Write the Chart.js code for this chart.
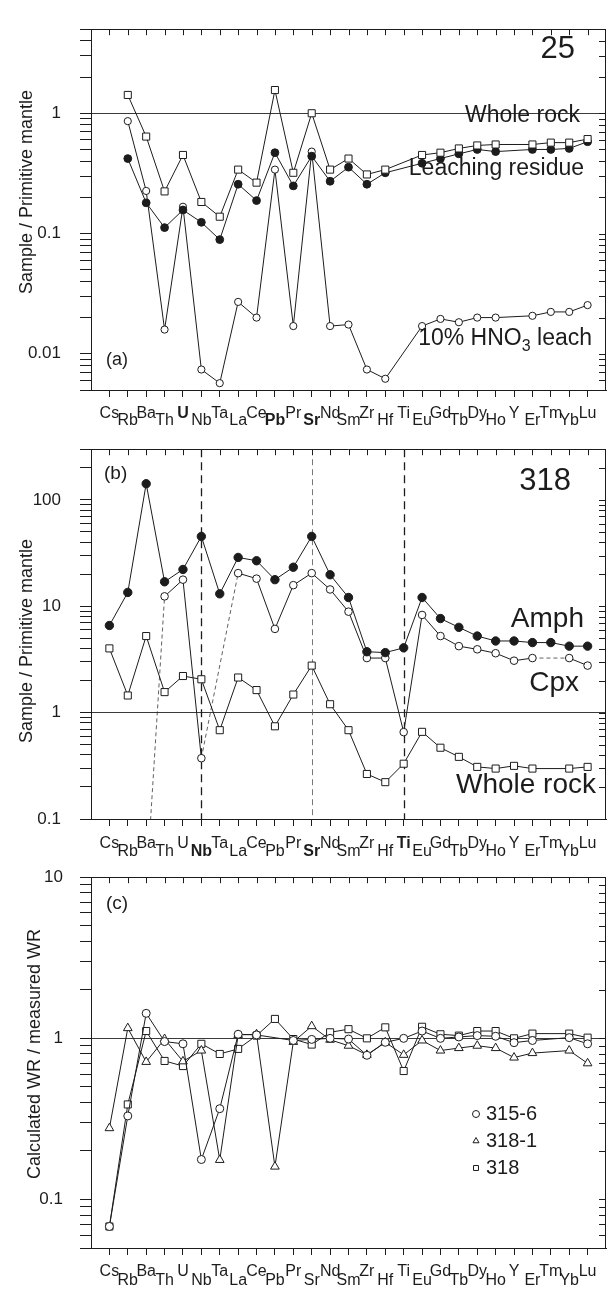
<!DOCTYPE html>
<html><head><meta charset="utf-8">
<script src="https://cdn.jsdelivr.net/npm/chart.js@4.4.1/dist/chart.umd.min.js"></script>
<style>
html,body{margin:0;padding:0;background:#fff;}
#wrap{position:relative;width:612px;height:1291px;overflow:hidden;background:#fff;}
canvas{position:absolute;left:0;}
</style></head><body>
<div id="wrap">
<canvas id="ca" style="top:0px" width="612" height="432"></canvas>
<canvas id="cb" style="top:420px" width="612" height="445"></canvas>
<canvas id="cc" style="top:850px" width="612" height="441"></canvas>
</div>
<script>
// ---------- categories and tick labels ----------
const ELEMENTS = ['Cs','Rb','Ba','Th','U','Nb','Ta','La','Ce','Pb','Pr','Sr','Nd','Sm','Zr','Hf','Ti','Eu','Gd','Tb','Dy','Ho','Y','Er','Tm','Yb','Lu'];
const BOLD_A = ['U','Pb','Sr'];
const BOLD_B = ['Nb','Sr','Ti'];
const BOLD_C = [];
const Y_LABELS_A = [1, 0.1, 0.01];
const Y_LABELS_B = [100, 10, 1, 0.1];
const Y_LABELS_C = [10, 1, 0.1];

// ---------- panel (a): sample 25 ----------
const WHOLE_ROCK_A    = [null,1.42,0.64,0.224,0.45,0.183,0.138,0.34,0.265,1.56,0.32,1.0,0.34,0.42,0.31,0.34,null,0.45,0.47,0.51,0.54,0.55,null,0.55,0.57,0.57,0.61];
const LEACH_RESIDUE_A = [null,0.42,0.18,0.112,0.157,0.124,0.089,0.257,0.188,0.47,0.249,0.44,0.272,0.356,0.257,0.32,null,0.384,0.42,0.46,0.50,0.48,null,0.50,0.50,0.51,0.58];
const HNO3_LEACH_A    = [null,0.86,0.226,0.0159,0.167,0.0074,0.0057,0.027,0.020,0.34,0.017,0.48,0.017,0.0175,0.0074,0.0062,null,0.017,0.0195,0.0183,0.020,0.020,null,0.0207,0.0223,0.0223,0.0254];

// ---------- panel (b): sample 318 ----------
const AMPH_B       = [6.6,13.5,142,17,22.2,45.4,13.1,28.8,26.8,17.8,23.3,45.4,19.8,12.1,3.74,3.67,4.07,12.1,7.67,6.34,5.25,4.72,4.72,4.56,4.56,4.22,4.22];
const CPX_B        = [null,null,0.0215,12.4,17.8,0.373,null,20.5,18.2,6.13,15.8,20.5,14.4,8.9,3.26,3.26,0.656,8.29,5.25,4.22,3.94,3.62,3.08,3.26,null,3.26,2.77];
const WHOLE_ROCK_B = [4.02,1.45,5.25,1.56,2.21,2.06,0.684,2.14,1.63,0.744,1.48,2.77,1.2,0.684,0.265,0.222,0.331,0.66,0.468,0.384,0.309,0.298,0.316,0.298,null,0.298,0.309];
const CPX_DASHED_FROM = ['Ba','Nb','Er'];
const GUIDES_B = ['Nb','Sr','Ti'];

// ---------- panel (c): calculated / measured WR ----------
const S315_6 = [0.068,0.33,1.43,0.955,0.925,0.177,0.366,1.06,1.05,null,0.97,0.985,1.0,0.99,0.785,0.945,1.0,1.11,1.0,1.02,1.04,1.03,0.94,0.97,null,1.01,0.925];
const S318_1 = [0.277,1.157,0.714,0.99,0.72,0.84,0.176,1.05,1.06,0.16,0.95,1.19,0.98,0.90,0.79,0.945,0.79,0.97,0.84,0.87,0.90,0.87,0.76,0.81,null,0.84,0.70];
const S318   = [0.068,0.389,1.11,0.724,0.673,0.925,0.80,0.86,1.04,1.32,0.99,0.915,1.09,1.14,1.0,1.17,0.627,1.18,1.06,1.04,1.11,1.11,1.0,1.07,null,1.07,1.01];

// ---------- style ----------
const FONT = "'Liberation Sans', Arial, Helvetica, sans-serif";
const INK = '#1c1c1c';
Chart.defaults.font.family = FONT;
Chart.defaults.color = INK;

function pts(arr){ return arr.map((v,i)=> v==null ? null : {x:i, y:v}).filter(p=>p); }
function logTicks(min,max){
  const out=[];
  for(let e=Math.floor(Math.log10(min))-1; e<=Math.ceil(Math.log10(max)); e++){
    for(let m=1;m<=9;m++){
      const v = Number((m*Math.pow(10,e)).toPrecision(6));
      if(v>=min*0.9999 && v<=max*1.0001) out.push({value:v});
    }
  }
  return out;
}
function drawRich(ctx, t, dy){
  const segs = t.segs || [{s:t.text}];
  const fontFor = sg => `${t.bold?'bold ':''}${sg.sub ? Math.round(t.size*0.7) : t.size}px ${FONT}`;
  let w = 0;
  segs.forEach(sg => { ctx.font = fontFor(sg); w += ctx.measureText(sg.s).width; });
  let cx = t.align === 'right' ? t.x - w : t.x;
  ctx.textAlign = 'left'; ctx.textBaseline = 'alphabetic'; ctx.fillStyle = INK;
  segs.forEach(sg => {
    ctx.font = fontFor(sg);
    ctx.fillText(sg.s, cx, t.y - dy + (sg.sub ? t.size*0.25 : 0));
    cx += ctx.measureText(sg.s).width;
  });
}
function marker(ctx, style, r, x, y, filled){
  ctx.save();
  ctx.fillStyle = filled ? INK : '#fff'; ctx.strokeStyle = INK; ctx.lineWidth = 1;
  ctx.beginPath();
  if(style==='rect'){ const h=r*Math.SQRT1_2; ctx.rect(x-h,y-h,2*h,2*h); }
  else if(style==='triangle'){ for(let k=0;k<3;k++){ const a=k*2*Math.PI/3; const px=x+Math.sin(a)*r, py=y-Math.cos(a)*r; k?ctx.lineTo(px,py):ctx.moveTo(px,py);} ctx.closePath(); }
  else { ctx.arc(x,y,r,0,2*Math.PI); }
  ctx.fill(); ctx.stroke(); ctx.restore();
}

const decorPlugin = {
  id: 'decor',
  beforeDatasetsDraw(chart, args, o){
    const {ctx, chartArea:a, scales:{x}} = chart;
    (o.vlines||[]).forEach(v => {
      const px = Math.round(x.getPixelForValue(ELEMENTS.indexOf(v.at))) + 0.5;
      ctx.save(); ctx.strokeStyle = v.color; ctx.lineWidth = v.width; ctx.setLineDash(v.dash);
      ctx.beginPath(); ctx.moveTo(px, a.top); ctx.lineTo(px, a.bottom); ctx.stroke(); ctx.restore();
    });
  },
  afterDraw(chart, args, o){
    const {ctx, chartArea:a, scales:{x, y}} = chart;
    ctx.save();
    ctx.strokeStyle = INK; ctx.lineWidth = 1;
    const R = Math.round(a.right) - 0.5, T = Math.round(a.top) + 0.5;
    ctx.beginPath();
    ctx.moveTo(a.left, T); ctx.lineTo(R, T); ctx.lineTo(R, a.bottom);
    x.ticks.forEach(t => { const px = Math.round(x.getPixelForValue(t.value))+0.5; ctx.moveTo(px, a.top); ctx.lineTo(px, a.top+6); });
    y.ticks.forEach(t => { const py = Math.round(y.getPixelForValue(t.value))+0.5; ctx.moveTo(a.right, py); ctx.lineTo(a.right-7, py); });
    ctx.stroke();
    // staggered element labels
    ctx.fillStyle = INK; ctx.textAlign = 'center'; ctx.textBaseline = 'alphabetic';
    ELEMENTS.forEach((el, i) => {
      const px = x.getPixelForValue(i);
      const py = a.bottom + (i % 2 === 0 ? o.upper : o.lower);
      ctx.font = (o.bold.includes(el) ? 'bold ' : '') + o.labelSize + 'px ' + FONT;
      ctx.fillText(el, px, py);
    });
    // y-axis title (rotated)
    if(o.yTitle){
      const t = o.yTitle;
      ctx.save();
      ctx.translate(t.x, t.y - o.dy); ctx.rotate(-Math.PI/2);
      ctx.font = t.size + 'px ' + FONT; ctx.textAlign = 'center'; ctx.textBaseline = 'middle';
      ctx.fillText(t.text, 0, 0);
      ctx.restore();
    }
    (o.texts||[]).forEach(t => drawRich(ctx, t, o.dy));
    if(o.legend){
      const L = o.legend;
      chart.data.datasets.forEach((ds, i) => {
        const by = L.y + i*L.gap - o.dy;
        marker(ctx, ds.pointStyle, L.r, L.x, by - 6, false);
        drawRich(ctx, {text: ds.label, x: L.x + 10, y: by + o.dy, size: L.size}, o.dy);
      });
    }
    ctx.restore();
  }
};

function panel(id, p){
  const canvas = document.getElementById(id);
  const H = canvas.height;
  return new Chart(canvas, {
    type: 'line',
    data: {datasets: p.datasets},
    options: {
      responsive: false, animation: false, events: [],
      layout: {padding: {left: 0, right: 5, top: p.top, bottom: 0}},
      plugins: {legend: {display: false}, tooltip: {enabled: false}, decor: p.decor},
      scales: {
        x: {type: 'linear', min: -1, max: 27,
          afterBuildTicks: s => { s.ticks = ELEMENTS.map((_, i) => ({value: i})); },
          afterFit: s => { s.height = H - p.bottom; },
          ticks: {display: false},
          grid: {drawOnChartArea: false, drawTicks: true, tickLength: 7, tickColor: INK, color: INK},
          border: {display: true, color: INK, width: 1}},
        y: {type: 'logarithmic', min: p.yMin, max: p.yMax,
          afterBuildTicks: s => { s.ticks = logTicks(p.yMin, p.yMax); },
          afterFit: s => { s.width = 91; },
          ticks: {autoSkip: false, padding: p.tickPad, font: {size: 17}, color: INK,
            callback: v => { const L = p.yLabels.find(l => Math.abs(l - v) < l*1e-6); return L === undefined ? '' : String(L); }},
          grid: {drawOnChartArea: true, tickLength: 11, tickColor: INK, lineWidth: 1,
            color: c => (c.tick && Math.abs(c.tick.value - 1) < 1e-9) ? '#3a3a3a' : 'rgba(0,0,0,0)'},
          border: {display: true, color: INK, width: 1},
          title: {display: false}}
      }
    },
    plugins: [decorPlugin]
  });
}

const base = {borderColor: INK, borderWidth: 1, pointBorderColor: INK, pointBorderWidth: 1, tension: 0, fill: false};

// (a)
panel('ca', {
  top: 11, bottom: 390, yMin: 0.005, yMax: 5, yLabels: Y_LABELS_A, tickPad: 19,
  datasets: [
    {...base, label: 'Whole rock', data: pts(WHOLE_ROCK_A), pointStyle: 'rect', pointRadius: 5, pointBackgroundColor: '#fff'},
    {...base, label: 'Leaching residue', data: pts(LEACH_RESIDUE_A), pointStyle: 'circle', pointRadius: 3.9, pointBackgroundColor: INK},
    {...base, label: '10% HNO3 leach', data: pts(HNO3_LEACH_A), pointStyle: 'circle', pointRadius: 3.6, pointBackgroundColor: '#fff'}
  ],
  decor: {dy: 0, bold: BOLD_A, labelSize: 16, upper: 28, lower: 34.5,
    yTitle: {text: 'Sample / Primitive mantle', x: 27, y: 192, size: 18},
    texts: [
      {text: '25', x: 575, y: 58, size: 31, align: 'right'},
      {text: 'Whole rock', x: 580, y: 122, size: 23, align: 'right'},
      {text: 'Leaching residue', x: 584, y: 175, size: 23, align: 'right'},
      {segs: [{s:'10% HNO'},{s:'3',sub:true},{s:' leach'}], x: 592, y: 345, size: 23, align: 'right'},
      {text: '(a)', x: 106, y: 365, size: 18}
    ]}
});

// (b)
panel('cb', {
  top: 20, bottom: 399, yMin: 0.1, yMax: 300, yLabels: Y_LABELS_B, tickPad: 19,
  datasets: [
    {...base, label: 'Amph', data: pts(AMPH_B), pointStyle: 'circle', pointRadius: 4.2, pointBackgroundColor: INK},
    {...base, label: 'Cpx', data: pts(CPX_B), pointStyle: 'circle', pointRadius: 3.8, pointBackgroundColor: '#fff',
      segment: {
        borderDash: c => CPX_DASHED_FROM.includes(ELEMENTS[c.p0.parsed.x]) ? [4, 3] : undefined,
        borderWidth: c => CPX_DASHED_FROM.includes(ELEMENTS[c.p0.parsed.x]) ? 0.7 : undefined
      }},
    {...base, label: 'Whole rock', data: pts(WHOLE_ROCK_B), pointStyle: 'rect', pointRadius: 5, pointBackgroundColor: '#fff'}
  ],
  decor: {dy: 420, bold: BOLD_B, labelSize: 16, upper: 28.5, lower: 37,
    yTitle: {text: 'Sample / Primitive mantle', x: 27, y: 641, size: 18},
    vlines: [
      {at: GUIDES_B[0], color: INK, width: 1.3, dash: [8, 5]},
      {at: GUIDES_B[1], color: '#555', width: 0.8, dash: [6, 4]},
      {at: GUIDES_B[2], color: INK, width: 1.3, dash: [8, 5]}
    ],
    texts: [
      {text: '318', x: 571, y: 490, size: 31, align: 'right'},
      {text: 'Amph', x: 584, y: 627, size: 28, align: 'right'},
      {text: 'Cpx', x: 579, y: 691, size: 28, align: 'right'},
      {text: 'Whole rock', x: 596, y: 793, size: 28, align: 'right'},
      {text: '(b)', x: 104, y: 479, size: 19}
    ]}
});

// (c)
panel('cc', {
  top: 18, bottom: 398, yMin: 0.05, yMax: 10, yLabels: Y_LABELS_C, tickPad: 17,
  datasets: [
    {...base, label: '315-6', data: pts(S315_6), pointStyle: 'circle', pointRadius: 4, pointBackgroundColor: '#fff'},
    {...base, label: '318-1', data: pts(S318_1), pointStyle: 'triangle', pointRadius: 5, pointBackgroundColor: '#fff'},
    {...base, label: '318', data: pts(S318), pointStyle: 'rect', pointRadius: 5, pointBackgroundColor: '#fff'}
  ],
  decor: {dy: 850, bold: BOLD_C, labelSize: 16, upper: 28, lower: 36.5,
    yTitle: {text: 'Calculated WR / measured WR', x: 35, y: 1054, size: 18},
    texts: [
      {text: '(c)', x: 106, y: 909, size: 19}
    ],
    legend: {x: 476, y: 1120, gap: 27, r: 3.5, size: 20}}
});
</script>
</body></html>
